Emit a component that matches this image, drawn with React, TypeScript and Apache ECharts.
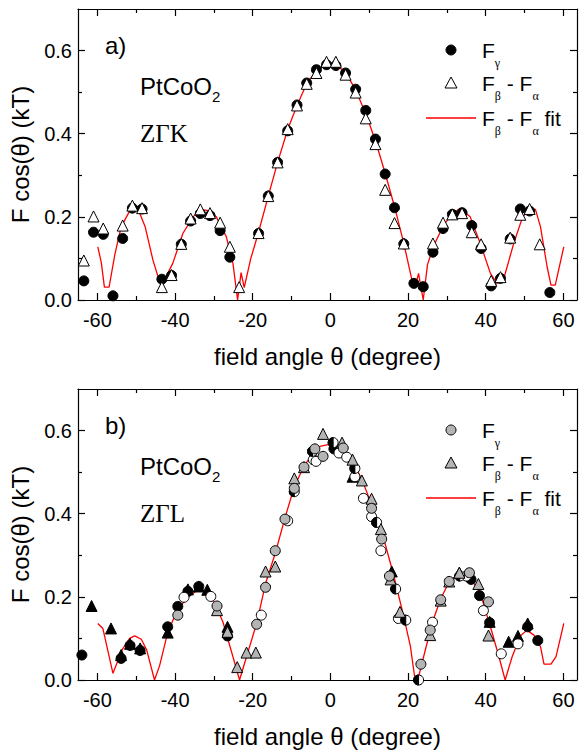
import React, { useEffect, useRef } from "react";
import * as echarts from "echarts";

// ---------- data ----------
const xMajorTicks = [-60, -40, -20, 0, 20, 40, 60];
const xMinorTicks = [-50, -30, -10, 10, 30, 50];
const yMajorTicks = [0, 0.2, 0.4, 0.6];
const yMinorTicks = [0.1, 0.3, 0.5];

// panel a) Z-Gamma-K
const aGamma: number[][] = [
  [-63.5, 0.046], [-61.0, 0.163], [-58.5, 0.158], [-56.0, 0.010], [-53.5, 0.148],
  [-51.0, 0.221], [-48.5, 0.219], [-43.4, 0.050], [-40.9, 0.059], [-38.4, 0.134],
  [-36.0, 0.190], [-33.5, 0.208], [-31.0, 0.203], [-28.4, 0.167], [-25.9, 0.103],
  [-18.5, 0.160], [-16.0, 0.250], [-13.6, 0.331], [-11.0, 0.407], [-8.6, 0.469],
  [-6.1, 0.522], [-3.6, 0.554], [-1.0, 0.566], [1.4, 0.564], [3.9, 0.546],
  [6.5, 0.507], [9.1, 0.456], [11.6, 0.387], [14.1, 0.303], [16.5, 0.222],
  [18.9, 0.135], [21.5, 0.040], [23.9, 0.032], [26.4, 0.115], [29.0, 0.172],
  [31.4, 0.206], [33.9, 0.210], [36.4, 0.179], [38.8, 0.124], [41.4, 0.034],
  [43.8, 0.052], [46.3, 0.147], [48.9, 0.219], [51.3, 0.214], [56.5, 0.018],
];
const aDiff: number[][] = [
  [-63.5, 0.095], [-61.0, 0.201], [-58.5, 0.172], [-53.5, 0.179], [-51.0, 0.227],
  [-48.5, 0.221], [-43.4, 0.031], [-40.9, 0.060], [-38.4, 0.135], [-36.0, 0.196],
  [-33.5, 0.218], [-31.0, 0.209], [-28.4, 0.186], [-25.9, 0.128], [-23.5, 0.031],
  [-18.5, 0.161], [-16.0, 0.250], [-13.6, 0.331], [-11.0, 0.411], [-8.6, 0.468],
  [-6.1, 0.520], [-3.6, 0.546], [-1.0, 0.573], [1.4, 0.573], [3.9, 0.542],
  [6.5, 0.499], [9.1, 0.437], [11.6, 0.375], [14.1, 0.265], [16.5, 0.185],
  [18.9, 0.136], [26.4, 0.136], [29.0, 0.186], [31.4, 0.206], [33.9, 0.209],
  [36.4, 0.163], [38.8, 0.134], [41.4, 0.046], [43.8, 0.055], [46.3, 0.150],
  [48.9, 0.205], [51.3, 0.219], [53.9, 0.134],
];
const aFit: number[][] = [
  [-59.9, 0.128], [-59.0, 0.09], [-58.2, 0.031], [-57.0, 0.031], [-55.5, 0.11],
  [-53.9, 0.176], [-51.3, 0.221], [-49.9, 0.227], [-47.7, 0.176], [-45.7, 0.096],
  [-44.0, 0.044], [-43.2, 0.04], [-40.6, 0.088], [-38.0, 0.16], [-35.4, 0.2],
  [-33.3, 0.218], [-31.5, 0.215], [-29.4, 0.2], [-26.8, 0.152], [-25.1, 0.088],
  [-23.9, 0.0], [-23.0, 0.066], [-22.2, 0.03], [-20.5, 0.10], [-18.6, 0.16],
  [-16.0, 0.25], [-13.6, 0.331], [-11.0, 0.41], [-8.6, 0.468], [-6.1, 0.521],
  [-3.6, 0.551], [-1.0, 0.566], [0.0, 0.568], [1.4, 0.566], [3.9, 0.548],
  [6.5, 0.505], [9.1, 0.448], [11.6, 0.383], [14.1, 0.305], [16.5, 0.225],
  [18.9, 0.136], [21.0, 0.048], [21.8, 0.03], [22.7, 0.064], [23.9, 0.0],
  [25.0, 0.085], [26.5, 0.128], [29.1, 0.18], [31.7, 0.21], [33.4, 0.22],
  [36.0, 0.2], [38.6, 0.136], [41.2, 0.064], [42.9, 0.04], [44.6, 0.05],
  [47.2, 0.136], [49.5, 0.2], [51.5, 0.218], [52.8, 0.218], [54.1, 0.176],
  [55.8, 0.08], [56.8, 0.036], [57.9, 0.036], [60.1, 0.128],
];

// panel b) Z-Gamma-L
const bGammaGray: number[][] = [
  [-39.3, 0.156], [-29.2, 0.178], [-19.0, 0.134], [-16.7, 0.223], [-14.2, 0.311],
  [-11.7, 0.387], [-9.3, 0.461], [-6.8, 0.512], [-4.0, 0.556], [-1.9, 0.538],
  [3.3, 0.558], [10.6, 0.413], [13.2, 0.339], [15.2, 0.250], [23.3, 0.038],
  [25.7, 0.120], [28.4, 0.193], [30.6, 0.237], [35.8, 0.258], [40.7, 0.188],
];
const bGammaWhite: number[][] = [
  [-37.7, 0.199], [-30.8, 0.201], [-17.8, 0.156], [-11.0, 0.383], [-4.4, 0.530],
  [-3.7, 0.526], [2.2, 0.546], [4.2, 0.536], [6.3, 0.489], [8.5, 0.437],
  [10.6, 0.393], [13.0, 0.311], [17.5, 0.148], [26.3, 0.139], [35.0, 0.250],
  [39.4, 0.167], [44.0, 0.063], [48.3, 0.087],
];
const bGammaBlack: number[][] = [
  [-64.0, 0.060], [-53.9, 0.052], [-51.6, 0.083], [-49.0, 0.071], [-41.9, 0.128],
  [-39.3, 0.177], [-36.7, 0.213], [-33.9, 0.225], [-26.5, 0.106], [0.9, 0.556],
  [36.2, 0.242], [38.4, 0.203], [41.0, 0.138], [50.8, 0.128], [53.4, 0.095],
];
const bGammaHalf: number[][] = [
  [-9.3, 0.453], [-4.6, 0.550], [0.7, 0.571], [6.3, 0.509], [11.9, 0.379],
  [16.8, 0.219], [19.4, 0.144], [22.7, 0.0], [33.3, 0.250],
];
const bDiffGray: number[][] = [
  [-29.2, 0.168], [-26.5, 0.116], [-24.0, 0.031], [-21.6, 0.066], [-19.2, 0.066],
  [-16.7, 0.261], [-14.2, 0.273], [-9.3, 0.485], [-6.8, 0.512], [-1.9, 0.592],
  [3.0, 0.571], [5.7, 0.530], [8.1, 0.480], [10.6, 0.436], [13.0, 0.363],
  [15.5, 0.242], [17.9, 0.164], [25.7, 0.108], [28.4, 0.191], [30.6, 0.237],
  [33.2, 0.258], [38.1, 0.231], [40.7, 0.107],
];
const bDiffBlack: number[][] = [
  [-61.5, 0.178], [-56.5, 0.124], [-53.9, 0.060], [-51.6, 0.087], [-49.0, 0.076],
  [-41.9, 0.114], [-36.7, 0.218], [-33.9, 0.225], [-31.7, 0.217], [-26.5, 0.128],
  [5.7, 0.489], [15.8, 0.261], [33.2, 0.258], [41.0, 0.140], [45.9, 0.092],
  [48.3, 0.106], [50.8, 0.136],
];
const bFit: number[][] = [
  [-59.9, 0.136], [-58.6, 0.124], [-57.3, 0.07], [-56.0, 0.016], [-53.5, 0.075],
  [-51.7, 0.1], [-50.4, 0.106], [-48.7, 0.098], [-47.3, 0.072], [-45.3, 0.0],
  [-44.0, 0.034], [-41.9, 0.114], [-39.8, 0.16], [-37.2, 0.196], [-34.7, 0.213],
  [-33.0, 0.214], [-30.2, 0.193], [-27.7, 0.14], [-25.1, 0.056], [-23.4, 0.0],
  [-21.6, 0.056], [-19.0, 0.136], [-16.7, 0.232], [-14.2, 0.305], [-11.7, 0.39],
  [-9.3, 0.465], [-6.8, 0.515], [-4.4, 0.545], [-2.7, 0.562], [0.3, 0.568],
  [3.3, 0.557], [5.9, 0.525], [8.5, 0.473], [11.1, 0.41], [13.7, 0.341],
  [16.2, 0.255], [18.8, 0.156], [20.6, 0.081], [21.8, 0.0], [22.5, 0.0],
  [24.0, 0.056], [26.1, 0.134], [28.3, 0.193], [30.5, 0.235], [32.6, 0.253],
  [34.3, 0.253], [36.4, 0.24], [38.6, 0.209], [41.2, 0.128], [43.4, 0.056],
  [45.0, 0.0], [46.8, 0.056], [48.9, 0.106], [50.6, 0.12], [52.4, 0.108],
  [54.1, 0.08], [55.0, 0.038], [56.8, 0.038], [58.1, 0.056], [60.1, 0.136],
];

// ---------- styling ----------
const SANS = "'Liberation Sans', Arial, Helvetica, sans-serif";
const SERIF = "'Liberation Serif', 'Times New Roman', serif";
const X_MIN = -65;
const X_MAX = 63.5;
const Y_MIN = 0;
const Y_MAX = 0.7;
const GRID_TOPS = [9, 389];
const GRID_H = 291;
const GRID_LEFT = 78;
const GRID_RIGHT = 5;
const RED = "#ff0000";
const GRAY = "#b4b4b4";
const HALF_PATH = "path://M10 0 A10 10 0 0 0 10 20 Z M20 10 L20 10.01 Z M0 0 L0.01 0 Z";
const TICK_STYLE = { color: "#000", width: 1.2 };

function axesFor(gi: number) {
  const line = { show: true, onZero: false, lineStyle: { color: "#000", width: 1.2 } };
  const noLine = { show: false, onZero: false };
  const base = { gridIndex: gi, splitLine: { show: false } };
  const xs = [
    {
      ...base, type: "value", min: X_MIN, max: X_MAX, position: "bottom",
      axisLine: line,
      axisTick: { show: true, inside: true, length: 7, customValues: xMajorTicks, lineStyle: TICK_STYLE },
      axisLabel: { customValues: xMajorTicks, fontSize: 20, color: "#000", fontFamily: SANS, margin: 10 },
      name: "field angle \u03b8 (degree)", nameLocation: "middle", nameGap: 44,
      nameTextStyle: { fontSize: 24, color: "#000", fontFamily: SANS },
    },
    {
      ...base, type: "value", min: X_MIN, max: X_MAX, position: "bottom",
      axisLine: noLine,
      axisTick: { show: true, inside: true, length: 4, customValues: xMinorTicks, lineStyle: TICK_STYLE },
      axisLabel: { show: false },
    },
    {
      ...base, type: "value", min: X_MIN, max: X_MAX, position: "top",
      axisLine: line,
      axisTick: { show: true, inside: true, length: 7, customValues: xMajorTicks, lineStyle: TICK_STYLE },
      axisLabel: { show: false },
    },
    {
      ...base, type: "value", min: X_MIN, max: X_MAX, position: "top",
      axisLine: noLine,
      axisTick: { show: true, inside: true, length: 4, customValues: xMinorTicks, lineStyle: TICK_STYLE },
      axisLabel: { show: false },
    },
  ];
  const ys = [
    {
      ...base, type: "value", min: Y_MIN, max: Y_MAX, position: "left",
      axisLine: line,
      axisTick: { show: true, inside: true, length: 7, customValues: yMajorTicks, lineStyle: TICK_STYLE },
      axisLabel: {
        customValues: yMajorTicks, fontSize: 20, color: "#000", fontFamily: SANS, margin: 6,
        formatter: (v: number) => v.toFixed(1),
      },
      name: "F cos(\u03b8) (kT)", nameLocation: "middle", nameGap: 46,
      nameTextStyle: { fontSize: 24, color: "#000", fontFamily: SANS },
    },
    {
      ...base, type: "value", min: Y_MIN, max: Y_MAX, position: "left",
      axisLine: noLine,
      axisTick: { show: true, inside: true, length: 4, customValues: yMinorTicks, lineStyle: TICK_STYLE },
      axisLabel: { show: false },
    },
    {
      ...base, type: "value", min: Y_MIN, max: Y_MAX, position: "right",
      axisLine: line,
      axisTick: { show: true, inside: true, length: 7, customValues: yMajorTicks, lineStyle: TICK_STYLE },
      axisLabel: { show: false },
    },
    {
      ...base, type: "value", min: Y_MIN, max: Y_MAX, position: "right",
      axisLine: noLine,
      axisTick: { show: true, inside: true, length: 4, customValues: yMinorTicks, lineStyle: TICK_STYLE },
      axisLabel: { show: false },
    },
  ];
  return { xs, ys };
}

function scatter(name: string, data: number[][], gi: number, symbol: string, fill: string, size: number, z = 3) {
  return {
    name, type: "scatter", data, xAxisIndex: gi * 4, yAxisIndex: gi * 4,
    symbol, symbolSize: size, z,
    itemStyle: { color: fill, borderColor: "#000", borderWidth: 1, opacity: 1 },
  };
}

function fitLine(name: string, data: number[][], gi: number) {
  return {
    name, type: "line", data, xAxisIndex: gi * 4, yAxisIndex: gi * 4,
    showSymbol: false, symbol: "none", z: 2,
    lineStyle: { color: RED, width: 1.3 },
  };
}

const legendRich = {
  f: { fontSize: 21, fontFamily: SANS, color: "#000", lineHeight: 37 },
  s: { fontSize: 12, fontFamily: SERIF, color: "#000", lineHeight: 12, padding: [25, 0, 0, 0] },
};
const labelRich = {
  m: { fontSize: 24, fontFamily: SANS, color: "#000", lineHeight: 35 },
  s: { fontSize: 15, fontFamily: SANS, color: "#000", lineHeight: 15, padding: [20, 0, 0, 0] },
};

function panelGraphics(top: number, letter: string, dir: string, circleFill: string, triFill: string) {
  const lx = 451;
  const tx = 482;
  const y1 = top + 41;
  const y2 = top + 74;
  const y3 = top + 109;
  const t = (x: number, y: number, text: string, rich: any, font: string, size: number) => ({
    type: "text", x, y, z: 10,
    style: { text, rich, fontFamily: font, fontSize: size, fill: "#000", verticalAlign: "middle", align: "left" },
  });
  return [
    t(105, top + 36, letter, undefined, SANS, 24),
    t(140, top + 77, "{m|PtCoO}{s|2}", labelRich, SANS, 24),
    t(140, top + 124, dir, undefined, SERIF, 25),
    { type: "circle", z: 10, shape: { cx: lx, cy: y1, r: 5 }, style: { fill: circleFill, stroke: "#000", lineWidth: 1 } },
    {
      type: "polygon", z: 10,
      shape: { points: [[lx, y2 - 6], [lx + 6, y2 + 5], [lx - 6, y2 + 5]] },
      style: { fill: triFill, stroke: "#000", lineWidth: 1 },
    },
    { type: "line", z: 10, shape: { x1: lx - 25, y1: y3, x2: lx + 25, y2: y3 }, style: { stroke: RED, lineWidth: 1.3 } },
    t(tx, y1, "{f|F}{s|\u03b3}", legendRich, SANS, 21),
    t(tx, y2, "{f|F}{s|\u03b2}{f| - F}{s|\u03b1}", legendRich, SANS, 21),
    t(tx, y3, "{f|F}{s|\u03b2}{f| - F}{s|\u03b1}{f| fit}", legendRich, SANS, 21),
  ];
}

export default function App() {
  const ref = useRef<HTMLDivElement>(null);
  useEffect(() => {
    if (!ref.current) return;
    const chart = echarts.init(ref.current, undefined, { renderer: "svg" });
    const a0 = axesFor(0);
    const a1 = axesFor(1);
    const option: any = {
      animation: false,
      backgroundColor: "#fff",
      textStyle: { fontFamily: SANS },
      grid: GRID_TOPS.map((top) => ({
        left: GRID_LEFT, right: GRID_RIGHT, top, height: GRID_H, containLabel: false,
      })),
      xAxis: [...a0.xs, ...a1.xs],
      yAxis: [...a0.ys, ...a1.ys],
      series: [
        fitLine("Fβ - Fα fit (a)", aFit, 0),
        scatter("Fγ (a)", aGamma, 0, "circle", "#000", 10, 3),
        scatter("Fβ - Fα (a)", aDiff, 0, "triangle", "#fff", 11, 4),
        fitLine("Fβ - Fα fit (b)", bFit, 1),
        scatter("Fβ - Fα black (b)", bDiffBlack, 1, "triangle", "#000", 11, 3),
        scatter("Fγ black (b)", bGammaBlack, 1, "circle", "#000", 10, 3),
        scatter("Fγ white (b)", bGammaWhite, 1, "circle", "#fff", 10, 4),
        scatter("Fγ half base (b)", bGammaHalf, 1, "circle", "#fff", 10, 4),
        scatter("Fγ half (b)", bGammaHalf, 1, HALF_PATH, "#000", 10, 5),
        scatter("Fβ - Fα (b)", bDiffGray, 1, "triangle", GRAY, 11, 5),
        scatter("Fγ (b)", bGammaGray, 1, "circle", GRAY, 10, 6),
      ],
      graphic: [
        ...panelGraphics(GRID_TOPS[0], "a)", "Z\u0393K", "#000", "#fff"),
        ...panelGraphics(GRID_TOPS[1], "b)", "Z\u0393L", GRAY, GRAY),
      ],
    };
    chart.setOption(option);
    return () => chart.dispose();
  }, []);
  return <div ref={ref} style={{ width: 582, height: 754, position: "absolute", left: 0, top: 0 }} />;
}
